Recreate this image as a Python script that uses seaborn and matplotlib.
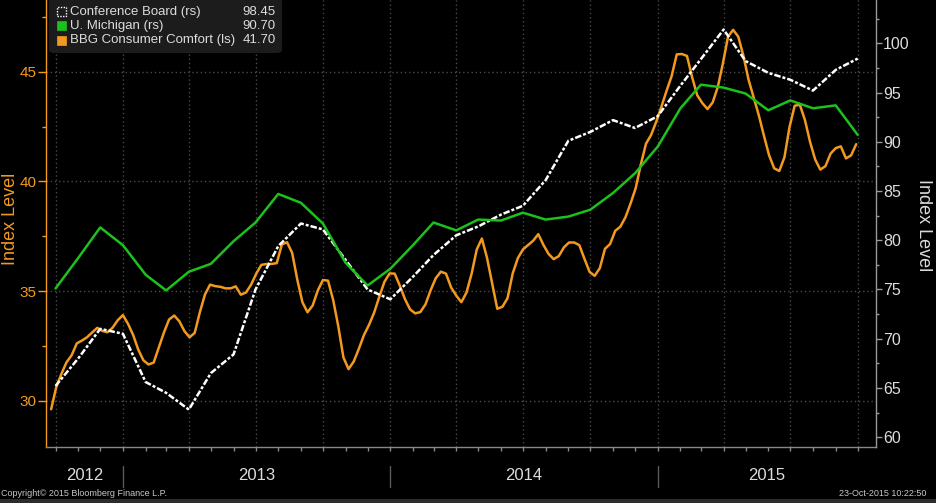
import numpy as np
import pandas as pd
import matplotlib
matplotlib.use("Agg")
import matplotlib.pyplot as plt
import matplotlib.dates as mdates
import matplotlib.transforms as mtransforms
from matplotlib.ticker import MultipleLocator, NullFormatter
from matplotlib.patches import FancyBboxPatch, Rectangle
import seaborn as sns

# ---------------- data ----------------
months = pd.date_range("2012-10-01", "2015-10-01", freq="MS")
conference_board = [65.2, 68.0, 71.0, 70.5, 65.6, 64.5, 62.8, 66.5, 68.4, 75.0,
                    79.4, 81.7, 81.1, 78.0, 75.0, 74.0, 76.3, 78.5, 80.5, 81.4,
                    82.6, 83.5, 86.1, 90.1, 91.0, 92.2, 91.4, 92.6, 95.7, 98.4,
                    101.4, 98.2, 97.0, 96.3, 95.2, 97.3, 98.45]
u_michigan = [75.1, 78.2, 81.3, 79.5, 76.5, 74.9, 76.8, 77.6, 79.9, 81.8,
              84.7, 83.8, 81.7, 77.7, 75.4, 77.1, 79.5, 81.8, 81.0, 82.1,
              82.0, 82.8, 82.1, 82.4, 83.1, 84.8, 86.8, 89.5, 93.4, 95.8,
              95.5, 94.9, 93.2, 94.2, 93.4, 93.7, 90.7]

weeks = pd.date_range("2012-09-25", periods=158, freq="7D")
bbg_comfort = [29.62, 30.63, 31.23, 31.76, 32.08, 32.62, 32.75, 32.90, 33.12, 33.33,
               33.19, 33.13, 33.34, 33.68, 33.91, 33.51, 33.00, 32.33, 31.85, 31.66,
               31.75, 32.43, 33.12, 33.71, 33.89, 33.63, 33.18, 32.90, 33.10, 34.04,
               34.85, 35.30, 35.23, 35.20, 35.13, 35.13, 35.22, 34.84, 34.94, 35.30,
               35.80, 36.20, 36.24, 36.24, 36.28, 37.13, 37.23, 36.75, 35.53, 34.50,
               34.04, 34.35, 35.03, 35.51, 35.48, 34.60, 33.40, 31.98, 31.45, 31.79,
               32.37, 33.00, 33.47, 34.03, 34.75, 35.43, 35.81, 35.80, 35.25, 34.64,
               34.17, 33.99, 34.05, 34.40, 35.04, 35.59, 35.89, 35.80, 35.17, 34.80,
               34.50, 34.94, 35.80, 36.90, 37.40, 36.52, 35.36, 34.20, 34.29, 34.68,
               35.80, 36.50, 36.90, 37.10, 37.30, 37.60, 37.11, 36.70, 36.46, 36.60,
               37.00, 37.22, 37.22, 37.10, 36.48, 35.88, 35.70, 36.05, 36.93, 37.15,
               37.75, 37.94, 38.37, 39.00, 39.70, 40.78, 41.72, 42.12, 42.72, 43.40,
               44.12, 44.80, 45.79, 45.81, 45.72, 44.75, 43.93, 43.57, 43.30, 43.60,
               44.30, 45.38, 46.60, 46.91, 46.60, 45.73, 44.64, 43.83, 43.02, 42.09,
               41.20, 40.60, 40.48, 41.10, 42.49, 43.45, 43.50, 42.80, 41.80, 41.00,
               40.54, 40.70, 41.27, 41.52, 41.60, 41.05, 41.19, 41.70]

year_labels = ["2012", "2013", "2014", "2015"]
legend_names = ["Conference Board (rs)", "U. Michigan (rs)", "BBG Consumer Comfort (ls)"]
legend_values = ["98.45", "90.70", "41.70"]

# ---------------- style ----------------
sns.set_theme(style="dark")
plt.rcParams["font.family"] = ["Liberation Sans", "DejaVu Sans"]

BG = "black"
ORANGE = "#f39a1e"
GREEN = "#1cc11c"
TXT = "#dcdcdc"
GRID = "#4a4a4a"

W, H = 937, 503
fig = plt.figure(figsize=(W / 100, H / 100), dpi=100, facecolor=BG)


def fx(x):
    return x / W


def fy(y):
    return 1 - y / H


ax = fig.add_axes([fx(46), fy(447), fx(830), 447 / H])
ax.set_facecolor(BG)
ax2 = ax.twinx()

sns.lineplot(x=weeks, y=bbg_comfort, ax=ax, color=ORANGE, linewidth=1.8, legend=False)
sns.lineplot(x=months, y=conference_board, ax=ax2, color="white", linewidth=1.8,
             linestyle=(0, (2.6, 0.8, 1.2, 0.8)), legend=False)
sns.lineplot(x=months, y=u_michigan, ax=ax2, color=GREEN, linewidth=1.8, legend=False)

# ---------------- axes ----------------
ax.set_xlim(pd.Timestamp("2012-09-18"), pd.Timestamp("2015-10-26"))
ax.set_ylim(27.9, 48.27)
ax2.set_ylim(59.0, 104.4)

ax.set_xlabel("")
ax.set_ylabel("")
ax2.set_ylabel("")

ax.xaxis.set_major_locator(mdates.MonthLocator(bymonth=[1, 4, 7, 10]))
ax.xaxis.set_minor_locator(mdates.MonthLocator())
ax.xaxis.set_major_formatter(NullFormatter())
ax.xaxis.set_minor_formatter(NullFormatter())
ax.tick_params(axis="x", which="both", direction="out", length=3, width=1,
               color="#888888", bottom=True)

ax.yaxis.set_major_locator(MultipleLocator(5))
ax.yaxis.set_minor_locator(MultipleLocator(2.5))
ax.tick_params(axis="y", which="major", direction="out", length=6, width=1,
               color=ORANGE, labelcolor=ORANGE, labelsize=11, pad=1, left=True)
ax.tick_params(axis="y", which="minor", direction="out", length=3, width=1,
               color=ORANGE, left=True)

ax2.yaxis.set_major_locator(MultipleLocator(5))
ax2.yaxis.set_minor_locator(MultipleLocator(2.5))
ax2.tick_params(axis="y", which="major", direction="out", length=4, width=1,
                color="#999999", labelcolor=TXT, labelsize=11.5, pad=1, right=True)
ax2.tick_params(axis="y", which="minor", direction="out", length=2, width=1,
                color="#999999", right=True)

ax.grid(True, which="major", axis="both", color=GRID, linestyle=(0, (1, 2)), linewidth=1)
ax2.grid(False)

for s in ["top"]:
    ax.spines[s].set_visible(False)
    ax2.spines[s].set_visible(False)
ax.spines["left"].set_color(ORANGE)
ax.spines["bottom"].set_color("#888888")
ax.spines["right"].set_visible(False)
ax2.spines["left"].set_visible(False)
ax2.spines["bottom"].set_visible(False)
ax2.spines["right"].set_color("#999999")
for s in ax.spines.values():
    s.set_linewidth(1)
ax2.spines["right"].set_linewidth(1)

# axis titles
fig.text(fx(11), fy(219), "Index Level", rotation=90, color=ORANGE, fontsize=13,
         ha="center", va="center")
fig.text(fx(924), fy(225), "Index Level", rotation=270, color=TXT, fontsize=13,
         ha="center", va="center")

# year labels and separators below the axis
trans = mtransforms.blended_transform_factory(ax.transData, ax.transAxes)
x0, x1 = ax.get_xlim()
bounds = [x0] + [mdates.date2num(pd.Timestamp(f"{y}-01-01")) for y in (2013, 2014, 2015)] + [x1]
for i, lab in enumerate(year_labels):
    ax.text((bounds[i] + bounds[i + 1]) / 2, (447 - 476) / 447, lab, transform=trans,
            ha="center", va="center", fontsize=12, color=TXT)
for b in bounds[1:-1]:
    ax.plot([b, b], [(447 - 466) / 447, (447 - 487) / 447], transform=trans,
            color="#5a5a5a", lw=1, clip_on=False)

# legend box
fig.patches.append(FancyBboxPatch((fx(49), fy(53)), fx(233), 53 / H + 0.01,
                                  boxstyle="round,pad=0,rounding_size=0.006",
                                  transform=fig.transFigure, fc="#1c1c1c", ec="none"))
rows = [11.7, 25.7, 40.2]
marker_styles = [dict(fc="none", ec="white", ls=(0, (1, 1)), lw=1),
                 dict(fc=GREEN, ec=GREEN, lw=0.5),
                 dict(fc=ORANGE, ec=ORANGE, lw=0.5)]
for ry, name, val, ms in zip(rows, legend_names, legend_values, marker_styles):
    fig.patches.append(Rectangle((fx(57.5), fy(ry + 4.3)), fx(8.5), 8.5 / H,
                                 transform=fig.transFigure, **ms))
    fig.text(fx(70), fy(ry), name, ha="left", va="center", fontsize=9.5, color=TXT)
    fig.text(fx(276), fy(ry), val, ha="right", va="center", fontsize=9.5, color=TXT)

# footer
fig.patches.append(Rectangle((0, 0), 1, 4 / H, transform=fig.transFigure,
                             fc="#2c2c2c", ec="none"))
fig.text(fx(1), fy(493), "Copyright\u00a9 2015 Bloomberg Finance L.P.", ha="left",
         va="center", fontsize=6.5, color="#c8c8c8")
fig.text(fx(926), fy(493), "23-Oct-2015 10:22:50", ha="right", va="center",
         fontsize=6.5, color="#c8c8c8")

fig.savefig("out.png", dpi=100, facecolor=BG)
